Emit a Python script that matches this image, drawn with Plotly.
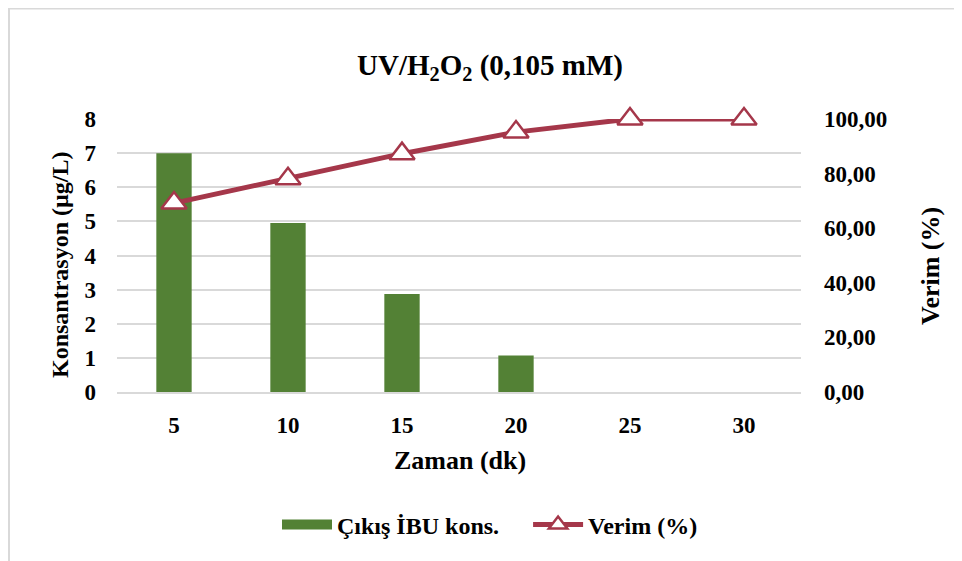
import plotly.graph_objects as go

categories = ["5", "10", "15", "20", "25", "30"]
konsantrasyon = [7.0, 4.95, 2.87, 1.07, 0, 0]
verim = [69.2, 78.1, 87.3, 95.2, 100.0, 100.0]
left_ticks = [0, 1, 2, 3, 4, 5, 6, 7, 8]
right_ticks = [0, 20, 40, 60, 80, 100]

W, H = 962, 561
OFF = 8  # page body margin: figure is drawn 8px right/down of the window origin
L, T = 117 - OFF, 119 - OFF
pw, ph = 684, 273
R, B = W - L - pw, H - T - ph

FONT = "Liberation Serif, Times New Roman, serif"
GREEN = "#538135"
RED = "#A5374A"
GRID = "#d9d9d9"


def sx(px):  # screen x -> paper
    return (px - OFF - L) / pw


def sy(py):  # screen y -> paper
    return (T + ph - (py - OFF)) / ph


fig = go.Figure()
fig.add_trace(go.Bar(
    x=categories, y=konsantrasyon, name="Çıkış İBU kons.", showlegend=False,
    legendgroup="bar",
    marker=dict(color=GREEN, line=dict(width=0)), width=0.31, yaxis="y"))
# legend entry for the bars drawn as a wide green block
fig.add_trace(go.Scatter(
    x=[None], y=[None], name="Çıkış İBU kons.&nbsp;&nbsp;&nbsp;&nbsp;",
    legendgroup="bar", mode="lines", line=dict(color=GREEN, width=12)))
fig.add_trace(go.Scatter(
    x=categories, y=verim, name="Verim (%)", yaxis="y2",
    mode="lines+markers", cliponaxis=False,
    line=dict(color=RED, width=5),
    marker=dict(symbol="triangle-up", size=22, color="white",
                line=dict(color=RED, width=2.5))))

tickfont = dict(family=FONT, size=23, color="black", weight="bold")

fig.update_layout(
    width=W, height=H,
    margin=dict(l=L, r=R, t=T, b=B, autoexpand=False),
    paper_bgcolor="white", plot_bgcolor="white",
    separators=",.",
    font=dict(family=FONT, size=18, color="black"),
    title=dict(text="<b>UV/H<sub>2</sub>O<sub>2</sub> (0,105 mM)</b>",
               x=sx(490), xanchor="center", xref="paper",
               y=1 - (65 - OFF) / H, yanchor="middle",
               font=dict(family=FONT, size=29, color="black")),
    xaxis=dict(type="category", showgrid=False, showline=True, linecolor=GRID,
               linewidth=1.5, ticks="", tickfont=tickfont, automargin=False,
               ticklabelstandoff=12),
    yaxis=dict(range=[0, 8], tickvals=left_ticks, showgrid=True, gridcolor=GRID,
               gridwidth=1.5, zeroline=False, showline=False, ticks="",
               tickfont=tickfont, automargin=False, ticklabelstandoff=20),
    yaxis2=dict(range=[0, 100], tickvals=right_ticks, overlaying="y", side="right",
                showgrid=False, zeroline=False, showline=False, ticks="",
                tickformat=".2f", tickfont=tickfont, automargin=False,
                ticklabelstandoff=22),
    legend=dict(orientation="h", x=sx(490), xanchor="center",
                y=sy(525), yanchor="middle",
                font=dict(family=FONT, size=24, color="black", weight="bold"),
                itemwidth=50, traceorder="normal"),
    showlegend=True,
)

# axis titles as annotations for exact placement
fig.add_annotation(text="<b>Zaman (dk)</b>", xref="paper", yref="paper",
                   x=sx(460), y=sy(460), showarrow=False,
                   xanchor="center", yanchor="middle",
                   font=dict(family=FONT, size=26, color="black"))
fig.add_annotation(text="<b>Konsantrasyon (µg/L)</b>", xref="paper", yref="paper",
                   x=sx(60), y=sy(265), showarrow=False, textangle=-90,
                   xanchor="center", yanchor="middle",
                   font=dict(family=FONT, size=24, color="black"))
fig.add_annotation(text="<b>Verim (%)</b>", xref="paper", yref="paper",
                   x=sx(930), y=sy(266), showarrow=False, textangle=-90,
                   xanchor="center", yanchor="middle",
                   font=dict(family=FONT, size=26, color="black"))

# outer chart border (top and left edges visible)
fig.add_shape(type="line", xref="paper", yref="paper",
              x0=sx(8), x1=sx(980), y0=sy(8.5), y1=sy(8.5),
              line=dict(color=GRID, width=2))
fig.add_shape(type="line", xref="paper", yref="paper",
              x0=sx(9), x1=sx(9), y0=sy(8), y1=sy(580),
              line=dict(color=GRID, width=2))

fig.write_html("out.html")
